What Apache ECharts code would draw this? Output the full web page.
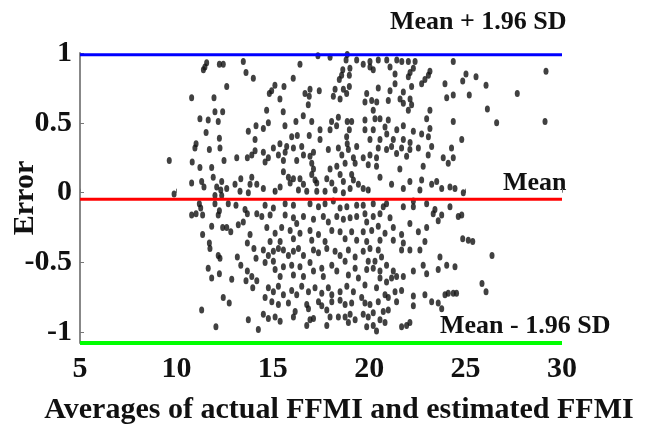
<!DOCTYPE html>
<html>
<head>
<meta charset="utf-8">
<script src="https://cdn.jsdelivr.net/npm/echarts@6/dist/echarts.min.js"></script>
<style>
  html, body { margin: 0; padding: 0; background: #fff; }
  #bland-chart { width: 652px; height: 427px; }
</style>
</head>
<body>
<div id="bland-chart"></div>
<script>
// limits of agreement
const upperLimit = 0.987;
const meanError = -0.047;
const lowerLimit = -1.076;
const xRange = [5, 30];
const yTicks = [-1, -0.5, 0, 0.5, 1];

// points, [average FFMI, error]
const ptsTopLeft = [
  [11.57, 0.93], [11.48, 0.90], [11.40, 0.88], [12.23, 0.92], [12.43, 0.92], [13.47, 0.94],
  [13.61, 0.86], [13.99, 0.82], [12.61, 0.76], [10.79, 0.68], [11.95, 0.68], [11.22, 0.53],
  [11.65, 0.52], [12.00, 0.58], [12.40, 0.58], [12.17, 0.51], [11.54, 0.43], [12.23, 0.39],
  [13.73, 0.44], [14.13, 0.48], [14.08, 0.38], [11.02, 0.35]
];
const ptsTopMid = [
  [17.34, 0.98], [17.97, 0.97], [18.86, 0.99], [18.80, 0.95], [19.35, 0.95], [16.41, 0.92],
  [16.06, 0.82], [18.63, 0.88], [19.00, 0.89], [18.57, 0.84], [18.97, 0.84], [18.45, 0.81],
  [15.11, 0.77], [14.94, 0.73], [14.82, 0.71], [15.58, 0.76], [16.93, 0.74], [17.41, 0.73],
  [16.67, 0.71], [16.89, 0.69], [16.84, 0.63], [18.23, 0.74], [18.14, 0.69], [18.49, 0.67],
  [18.66, 0.74], [18.97, 0.76], [18.83, 0.71], [15.37, 0.67], [14.68, 0.59], [15.54, 0.58],
  [16.58, 0.55], [16.20, 0.51], [17.02, 0.51], [14.77, 0.50], [14.51, 0.46], [15.63, 0.48],
  [18.05, 0.51], [18.40, 0.54], [18.31, 0.48], [17.97, 0.45], [18.86, 0.51], [19.09, 0.51],
  [18.97, 0.45], [17.45, 0.45], [15.98, 0.40], [16.27, 0.41], [16.89, 0.41], [17.45, 0.38],
  [15.37, 0.35], [18.83, 0.40], [18.86, 0.35]
];
const ptsTopRight = [
  [19.69, 0.92], [20.04, 0.94], [20.47, 0.95], [20.91, 0.95], [21.43, 0.95], [21.69, 0.94],
  [22.03, 0.94], [22.38, 0.94], [24.36, 0.94], [20.21, 0.88], [20.04, 0.90], [21.08, 0.90],
  [21.34, 0.85], [22.12, 0.86], [22.29, 0.89], [22.03, 0.83], [23.15, 0.87], [23.07, 0.84],
  [20.47, 0.75], [21.34, 0.78], [21.08, 0.73], [21.77, 0.72], [22.20, 0.76], [22.72, 0.78],
  [22.89, 0.81], [23.93, 0.78], [19.87, 0.71], [19.78, 0.65], [20.13, 0.66], [20.39, 0.65],
  [20.99, 0.66], [21.60, 0.67], [21.77, 0.64], [22.12, 0.67], [22.20, 0.63], [24.02, 0.68],
  [24.36, 0.70], [20.21, 0.59], [22.03, 0.59], [23.15, 0.59], [22.98, 0.53], [19.78, 0.52],
  [20.30, 0.53], [20.56, 0.53], [20.99, 0.52], [21.77, 0.48], [24.36, 0.51], [19.78, 0.45],
  [20.21, 0.45], [20.82, 0.47], [20.91, 0.42], [21.43, 0.45], [22.29, 0.44], [22.72, 0.42],
  [23.15, 0.46], [23.07, 0.40], [20.04, 0.38], [20.56, 0.38], [21.25, 0.38], [21.77, 0.38],
  [22.12, 0.36],
  [25.02, 0.85], [24.85, 0.80], [25.54, 0.83], [26.06, 0.77], [25.19, 0.70], [26.13, 0.60],
  [26.61, 0.50], [24.80, 0.38], [27.68, 0.71], [29.17, 0.87], [29.12, 0.51]
];
const ptsMidLeft = [
  [10.96, 0.32], [11.71, 0.31], [12.26, 0.32], [9.63, 0.23], [10.82, 0.22], [11.22, 0.18],
  [11.83, 0.18], [12.47, 0.23], [13.13, 0.25], [13.68, 0.25], [13.91, 0.27], [14.08, 0.30],
  [11.91, 0.11], [12.35, 0.08], [13.34, 0.10], [13.91, 0.11], [13.82, 0.06], [14.17, 0.06],
  [10.79, 0.07], [11.31, 0.08], [11.43, 0.04], [12.09, 0.04], [12.30, 0.02], [12.61, 0.03],
  [13.04, 0.06], [13.30, 0.01], [13.73, 0.00], [9.88, -0.01], [12.00, -0.02], [12.35, -0.02],
  [11.19, -0.08], [11.26, -0.11], [12.00, -0.08], [12.23, -0.13], [12.17, -0.16], [10.79, -0.16],
  [11.02, -0.15], [11.36, -0.16], [12.69, -0.08], [13.09, -0.09], [13.56, -0.12], [13.68, -0.15],
  [14.17, -0.15], [11.83, -0.24], [12.40, -0.25], [12.61, -0.25], [12.82, -0.28], [13.21, -0.23],
  [13.47, -0.21], [11.36, -0.30], [13.82, -0.30], [11.71, -0.36], [13.68, -0.36]
];
const ptsMidCentre = [
  [14.51, 0.29], [15.03, 0.32], [15.29, 0.27], [15.64, 0.29], [15.72, 0.33], [16.07, 0.32],
  [16.50, 0.33], [16.59, 0.27], [16.93, 0.26], [17.11, 0.29], [17.88, 0.31], [18.40, 0.32],
  [18.58, 0.27], [18.92, 0.31], [19.35, 0.33], [19.18, 0.25], [14.60, 0.22], [14.77, 0.25],
  [15.55, 0.23], [16.24, 0.23], [17.02, 0.21], [17.11, 0.17], [17.97, 0.17], [18.32, 0.19],
  [18.75, 0.21], [19.27, 0.21], [15.55, 0.15], [15.81, 0.11], [16.07, 0.10], [15.90, 0.07],
  [16.41, 0.10], [16.59, 0.06], [17.02, 0.13], [17.19, 0.09], [17.28, 0.07], [17.80, 0.10],
  [18.06, 0.07], [18.49, 0.13], [18.66, 0.08], [19.09, 0.13], [19.18, 0.09], [19.44, 0.06],
  [14.51, 0.03], [15.12, 0.01], [15.38, 0.04], [16.33, 0.02], [16.76, 0.01], [17.28, 0.01],
  [17.71, 0.01], [18.23, 0.02], [18.66, 0.00], [19.01, 0.03], [14.60, -0.09], [15.03, -0.11],
  [15.64, -0.08], [16.07, -0.09], [16.93, -0.08], [17.37, -0.10], [17.71, -0.08], [18.14, -0.06],
  [18.49, -0.11], [18.84, -0.10], [19.35, -0.09], [14.43, -0.17], [14.86, -0.16], [15.64, -0.16],
  [16.07, -0.18], [16.24, -0.22], [16.59, -0.17], [17.11, -0.19], [17.62, -0.17], [17.88, -0.21],
  [18.32, -0.17], [18.66, -0.19], [19.01, -0.18], [19.35, -0.17], [14.69, -0.25], [15.12, -0.29],
  [15.46, -0.25], [15.90, -0.27], [16.07, -0.33], [16.41, -0.29], [16.93, -0.27], [17.02, -0.34],
  [17.37, -0.30], [18.06, -0.27], [18.49, -0.28], [18.75, -0.33], [19.09, -0.28], [19.35, -0.34],
  [14.86, -0.35], [15.38, -0.35], [17.71, -0.35]
];
const ptsMidRight = [
  [19.69, 0.25], [20.04, 0.27], [20.38, 0.25], [20.47, 0.32], [20.90, 0.31], [21.16, 0.33],
  [21.42, 0.28], [21.68, 0.32], [21.94, 0.26], [22.11, 0.31], [22.55, 0.32], [23.06, 0.27],
  [23.24, 0.33], [23.84, 0.25], [24.27, 0.32], [24.36, 0.25], [19.95, 0.20], [20.38, 0.19],
  [20.56, 0.11], [21.59, 0.17], [22.80, 0.19], [24.10, 0.21], [21.16, 0.06], [21.77, 0.03],
  [22.11, 0.08], [22.72, 0.09], [22.63, 0.02], [23.24, 0.06], [23.76, 0.03], [24.19, 0.04],
  [24.45, 0.03], [23.50, 0.08], [19.69, 0.03], [19.95, 0.02], [19.69, -0.09], [20.21, -0.08],
  [20.73, -0.10], [20.90, -0.08], [21.77, -0.10], [22.29, -0.10], [22.29, -0.06], [22.98, -0.08],
  [23.41, -0.12], [24.19, -0.10], [24.62, -0.17], [19.78, -0.15], [19.87, -0.21], [20.21, -0.17],
  [20.56, -0.15], [21.08, -0.18], [23.32, -0.15], [23.76, -0.16], [23.58, -0.20], [19.69, -0.28],
  [20.13, -0.27], [20.47, -0.24], [20.82, -0.29], [21.25, -0.25], [21.68, -0.30], [22.11, -0.22],
  [22.55, -0.28], [22.98, -0.25], [22.89, -0.35], [21.25, -0.34], [21.77, -0.36], [19.87, -0.35],
  [20.56, -0.34], [24.88, 0.00], [24.80, -0.16], [24.85, -0.33], [25.14, -0.34], [25.37, -0.35]
];
const ptsLowLeft = [
  [11.74, -0.40], [12.17, -0.45], [12.26, -0.47], [13.16, -0.46], [13.34, -0.52], [14.02, -0.40],
  [14.13, -0.47], [11.65, -0.54], [12.23, -0.58], [11.83, -0.61], [12.87, -0.62], [13.61, -0.63],
  [13.68, -0.56], [13.91, -0.60], [13.96, -0.68], [14.17, -0.63], [12.43, -0.75], [12.74, -0.79],
  [11.31, -0.84], [13.73, -0.91], [12.05, -0.96], [14.25, -0.98]
];
const ptsLowCentre = [
  [14.51, -0.41], [14.77, -0.45], [15.03, -0.42], [15.29, -0.40], [15.55, -0.41], [15.81, -0.45],
  [16.07, -0.42], [16.33, -0.40], [16.59, -0.45], [17.11, -0.41], [17.37, -0.43], [17.80, -0.40],
  [18.23, -0.42], [18.49, -0.45], [18.92, -0.41], [19.27, -0.46], [14.60, -0.50], [15.03, -0.49],
  [15.12, -0.55], [15.38, -0.60], [15.55, -0.53], [15.98, -0.52], [16.07, -0.59], [16.41, -0.53],
  [16.59, -0.60], [16.93, -0.50], [17.11, -0.56], [17.54, -0.54], [17.62, -0.60], [18.06, -0.52],
  [18.32, -0.56], [18.75, -0.49], [18.92, -0.59], [19.27, -0.54], [19.44, -0.61], [14.77, -0.68],
  [15.03, -0.71], [15.29, -0.67], [15.55, -0.73], [15.98, -0.70], [16.24, -0.73], [16.50, -0.67],
  [16.85, -0.71], [17.19, -0.68], [17.54, -0.72], [17.88, -0.68], [18.06, -0.73], [18.49, -0.71],
  [18.84, -0.67], [19.18, -0.71], [14.60, -0.75], [14.95, -0.78], [15.29, -0.80], [15.81, -0.79],
  [16.16, -0.85], [16.76, -0.80], [16.85, -0.83], [17.37, -0.78], [17.54, -0.81], [17.80, -0.84],
  [18.06, -0.78], [18.49, -0.77], [18.75, -0.80], [19.09, -0.79], [14.51, -0.87], [14.77, -0.90],
  [15.12, -0.89], [15.38, -0.92], [16.07, -0.89], [16.76, -0.95], [16.93, -0.91], [17.11, -0.90],
  [17.80, -0.95], [17.97, -0.89], [18.40, -0.89], [18.75, -0.89], [19.01, -0.87], [18.92, -0.93],
  [19.27, -0.91]
];
const ptsLowRight = [
  [19.69, -0.42], [20.04, -0.40], [20.47, -0.41], [20.64, -0.46], [20.30, -0.49], [19.95, -0.49],
  [19.87, -0.55], [20.21, -0.54], [20.56, -0.56], [20.90, -0.52], [21.25, -0.56], [21.16, -0.61],
  [21.42, -0.60], [20.56, -0.61], [20.90, -0.64], [19.78, -0.66], [20.38, -0.68], [20.82, -0.73],
  [21.34, -0.71], [21.68, -0.70], [21.77, -0.60], [21.68, -0.41], [22.11, -0.41], [22.63, -0.41],
  [22.80, -0.52], [22.98, -0.58], [23.67, -0.46], [23.58, -0.55], [24.02, -0.52], [24.45, -0.53],
  [22.29, -0.56], [19.61, -0.75], [19.78, -0.79], [20.04, -0.80], [20.47, -0.78], [20.99, -0.75],
  [21.42, -0.78], [22.29, -0.74], [22.29, -0.81], [22.89, -0.73], [23.24, -0.78], [23.58, -0.79],
  [23.76, -0.83], [23.93, -0.73], [24.10, -0.72], [24.36, -0.72], [24.53, -0.72], [19.69, -0.87],
  [19.95, -0.89], [20.21, -0.86], [20.73, -0.85], [20.99, -0.84], [20.56, -0.91], [19.87, -0.96],
  [20.21, -0.95], [20.82, -0.93], [21.68, -0.96], [21.94, -0.95], [22.11, -0.93], [20.38, -0.99],
  [26.37, -0.45], [25.85, -0.65], [26.06, -0.71]
];

const allPoints = [].concat(ptsTopLeft, ptsTopMid, ptsTopRight, ptsMidLeft, ptsMidCentre,
  ptsMidRight, ptsLowLeft, ptsLowCentre, ptsLowRight);

const serif = "'Liberation Serif', 'Times New Roman', serif";

function hLine(val, color, width) {
  return {
    type: "line",
    data: [[xRange[0], val], [xRange[1], val]],
    symbol: "none",
    showSymbol: false,
    z: 5,
    lineStyle: { color: color, width: width },
    silent: true
  };
}

const chart = echarts.init(document.getElementById("bland-chart"));
chart.setOption({
  animation: false,
  backgroundColor: "#fff",
  grid: { left: 80, right: 90, top: 53, bottom: 84, outerBoundsMode: "none" },
  xAxis: {
    type: "value",
    min: xRange[0],
    max: xRange[1],
    interval: 5,
    name: "Averages of actual FFMI and estimated FFMI",
    nameLocation: "middle",
    nameGap: 52,
    nameMoveOverlap: false,
    nameTextStyle: { fontFamily: serif, fontWeight: "bold", fontSize: 30, color: "#111", padding: [0, 0, 0, 36] },
    axisLine: { show: false },
    axisTick: { inside: true, length: 4, lineStyle: { color: "#777" } },
    axisLabel: { fontFamily: serif, fontWeight: "bold", fontSize: 30, color: "#111", margin: 11 },
    splitLine: { show: false }
  },
  yAxis: {
    type: "value",
    min: lowerLimit,
    max: 1,
    name: "Error",
    nameLocation: "middle",
    nameGap: 40,
    nameMoveOverlap: false,
    nameTextStyle: { fontFamily: serif, fontWeight: "bold", fontSize: 30, color: "#111" },
    axisLine: { show: true, lineStyle: { color: "#888", width: 2 } },
    axisTick: { show: true, inside: true, length: 4, customValues: yTicks, lineStyle: { color: "#777" } },
    axisLabel: { fontFamily: serif, fontWeight: "bold", fontSize: 30, color: "#111", margin: 8, customValues: yTicks },
    splitLine: { show: false }
  },
  graphic: [
    { type: "text", left: 390, top: 9, style: { text: "Mean + 1.96 SD", font: "bold 26px " + serif, fill: "#111" } },
    { type: "text", left: 503, top: 170, style: { text: "Mean", font: "bold 26px " + serif, fill: "#111" } },
    { type: "text", left: 440, top: 313, style: { text: "Mean - 1.96 SD", font: "bold 26px " + serif, fill: "#111" } }
  ],
  series: [
    {
      type: "scatter",
      data: allPoints,
      symbol: "circle",
      symbolSize: [5, 7],
      itemStyle: { color: "#111" },
      z: 3
    },
    hLine(upperLimit, "#0000ff", 3),
    hLine(meanError, "#ff0000", 3),
    hLine(lowerLimit, "#00ff00", 4)
  ]
});
</script>
</body>
</html>
